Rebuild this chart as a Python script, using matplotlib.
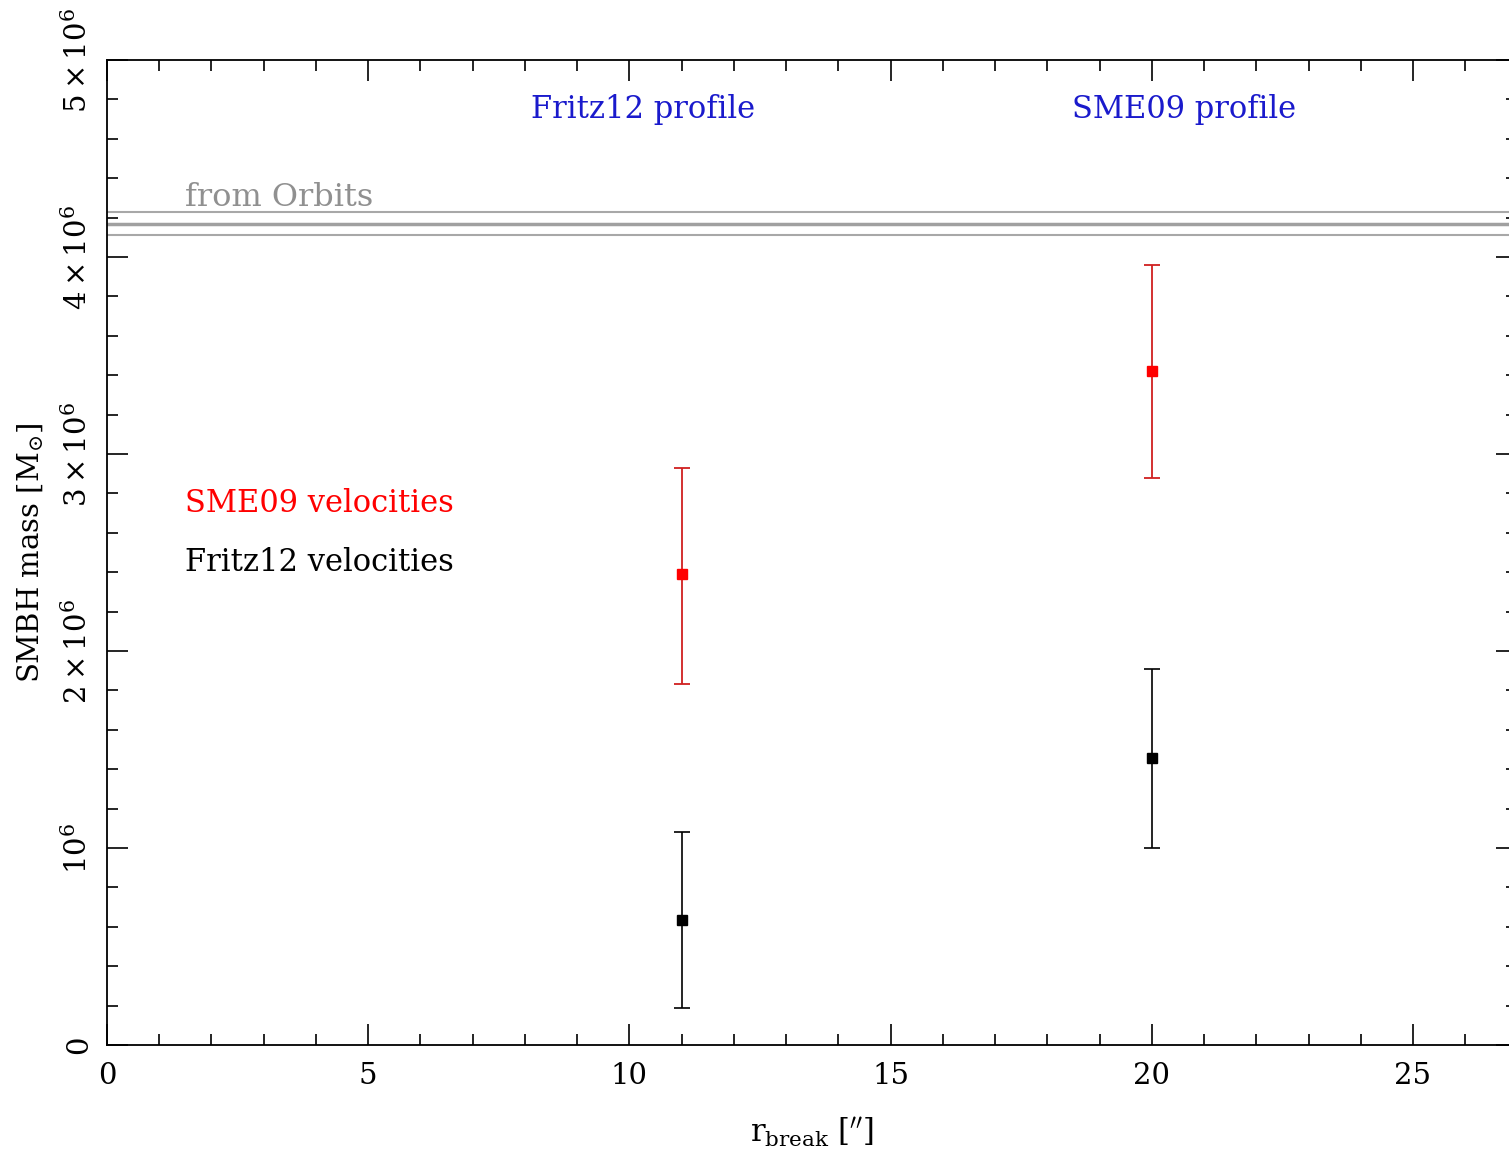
import matplotlib
matplotlib.use("Agg")
import matplotlib.pyplot as plt
from matplotlib.ticker import MultipleLocator, FuncFormatter

plt.rcParams['font.family'] = ['DejaVu Serif']
plt.rcParams['mathtext.fontset'] = 'dejavuserif'

# ====== data ======
r_break = [11, 20]
mass_sme09 = [2.39e6, 3.42e6]
err_sme09_lo = [0.56e6, 0.54e6]
err_sme09_hi = [0.54e6, 0.54e6]
mass_fritz12 = [0.635e6, 1.457e6]
err_fritz12_lo = [0.447e6, 0.457e6]
err_fritz12_hi = [0.446e6, 0.452e6]
orbit_mass = 4.17e6
orbit_err = 0.06e6

fig = plt.figure(figsize=(15.09, 11.60), dpi=100)
ax = fig.add_axes([107 / 1509, 115 / 1160, (27 * 52.24) / 1509, 985 / 1160])
ax.set_xlim(0, 27)
ax.set_ylim(0, 5e6)

# orbit constraint lines
ax.axhline(orbit_mass, color='#a0a0a0', lw=2.5)
ax.axhline(orbit_mass + orbit_err, color='#a8a8a8', lw=1.5)
ax.axhline(orbit_mass - orbit_err, color='#a8a8a8', lw=1.5)

ax.errorbar(r_break, mass_sme09, yerr=[err_sme09_lo, err_sme09_hi], fmt='s',
            color='red', ecolor='#d02020', ms=7, capsize=6, elinewidth=1.3, capthick=1.3)
ax.errorbar(r_break, mass_fritz12, yerr=[err_fritz12_lo, err_fritz12_hi], fmt='s',
            color='black', ecolor='black', ms=7, capsize=6, elinewidth=1.2, capthick=1.2)

ax.text(10.26, 4.75e6, 'Fritz12 profile', color='#1a1acc', fontsize=22, ha='center', va='center')
ax.text(20.62, 4.75e6, 'SME09 profile', color='#1a1acc', fontsize=22, ha='center', va='center')
ax.text(1.5, 4.30e6, 'from Orbits', color='#909090', fontsize=23, ha='left', va='center')
ax.text(1.5, 2.75e6, 'SME09 velocities', color='red', fontsize=22, ha='left', va='center')
ax.text(1.5, 2.45e6, 'Fritz12 velocities', color='black', fontsize=22, ha='left', va='center')

# ticks
ax.xaxis.set_major_locator(MultipleLocator(5))
ax.xaxis.set_minor_locator(MultipleLocator(1))
ax.yaxis.set_major_locator(MultipleLocator(1e6))
ax.yaxis.set_minor_locator(MultipleLocator(2e5))


def yfmt(v, pos):
    n = int(round(v / 1e6))
    if n == 0:
        return '0'
    if n == 1:
        return r'$10^{6}$'
    return r'$%d\times10^{6}$' % n


ax.yaxis.set_major_formatter(FuncFormatter(yfmt))
ax.tick_params(which='both', direction='in', top=True, right=True, colors='black')
ax.tick_params(which='major', length=15, width=1.2, labelsize=21)
ax.tick_params(axis='x', which='major', pad=12)
ax.tick_params(axis='y', which='major', pad=10)
ax.tick_params(which='minor', length=8, width=1.2)
for lab in ax.get_yticklabels():
    lab.set_rotation(90)
    lab.set_va('center')
for sp in ax.spines.values():
    sp.set_linewidth(1.3)

ax.set_xlabel(r"$\mathrm{r_{break}}$ [$''$]", fontsize=22, labelpad=18)
ax.set_ylabel(r'SMBH mass [M$_{\odot}$]', fontsize=21, labelpad=12)

fig.savefig('out.png', dpi=100)
